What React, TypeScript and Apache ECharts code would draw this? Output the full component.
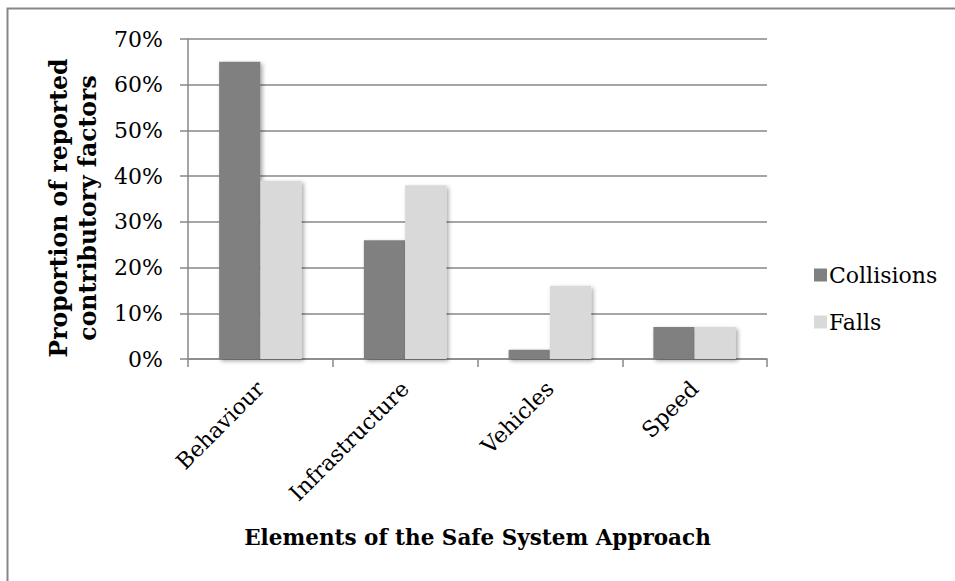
import React, { useEffect, useRef } from "react";
import * as echarts from "echarts";

const categories = ["Behaviour", "Infrastructure", "Vehicles", "Speed"];
const collisions = [65, 26, 2, 7];
const falls = [39, 38, 16, 7];
const yTicks = [0, 10, 20, 30, 40, 50, 60, 70];

const FONT = "DejaVu Serif";

export default function App() {
  const ref = useRef<HTMLDivElement>(null);
  useEffect(() => {
    if (!ref.current) return;
    const chart = echarts.init(ref.current, undefined, { renderer: "svg" });
    const shadow = {
      shadowBlur: 4,
      shadowColor: "rgba(0,0,0,0.35)",
      shadowOffsetX: 2,
      shadowOffsetY: 2,
    };
    chart.setOption({
      animation: false,
      backgroundColor: "#ffffff",
      textStyle: { fontFamily: FONT },
      graphic: [
        {
          type: "rect",
          shape: { x: 7.5, y: 8.5, width: 1200, height: 1000 },
          style: { fill: "none", stroke: "#878787", lineWidth: 2 },
          silent: true,
        },
      ],
      grid: { left: 188, top: 39, right: 188, bottom: 222, containLabel: false },
      legend: {
        orient: "vertical",
        left: 809,
        top: 259,
        itemWidth: 13,
        itemHeight: 13,
        itemGap: 25,
        icon: "rect",
        textStyle: { fontFamily: FONT, fontSize: 22, color: "#000", padding: [0, 0, 0, -3] },
        data: ["Collisions", "Falls"],
      },
      xAxis: {
        type: "category",
        data: categories,
        name: "Elements of the Safe System Approach",
        nameLocation: "middle",
        nameGap: 167,
        nameTextStyle: { fontFamily: FONT, fontSize: 21.5, fontWeight: "bold", color: "#000" },
        axisLine: { lineStyle: { color: "#878787", width: 1.5 } },
        axisTick: { show: true, length: 8, alignWithLabel: false, lineStyle: { color: "#878787", width: 1.5 } },
        axisLabel: { rotate: 45, fontFamily: FONT, fontSize: 22, color: "#000", margin: 26 },
      },
      yAxis: {
        type: "value",
        min: yTicks[0],
        max: yTicks[yTicks.length - 1],
        interval: 10,
        name: "Proportion of reported\ncontributory factors",
        nameLocation: "middle",
        nameGap: 86,
        nameRotate: 90,
        nameTextStyle: {
          fontFamily: FONT,
          fontSize: 23.5,
          fontWeight: "bold",
          color: "#000",
          lineHeight: 29,
          padding: [0, 18, 0, 0],
        },
        axisLine: { show: true, lineStyle: { color: "#878787", width: 1.5 } },
        axisTick: { show: true, length: 8, lineStyle: { color: "#878787", width: 1.5 } },
        splitLine: { show: true, lineStyle: { color: "#878787", width: 1.5 } },
        axisLabel: {
          fontFamily: FONT,
          fontSize: 22,
          color: "#000",
          margin: 25,
          formatter: (v: number) => `${v}%`,
        },
      },
      series: [
        {
          name: "Collisions",
          type: "bar",
          data: collisions,
          barGap: "0%",
          barCategoryGap: "43%",
          itemStyle: { color: "#808080", ...shadow },
        },
        {
          name: "Falls",
          type: "bar",
          data: falls,
          itemStyle: { color: "#d9d9d9", ...shadow },
        },
      ],
    });
    return () => chart.dispose();
  }, []);
  return (
    <div
      ref={ref}
      style={{ position: "fixed", left: 0, top: 0, width: 955, height: 581 }}
    />
  );
}
